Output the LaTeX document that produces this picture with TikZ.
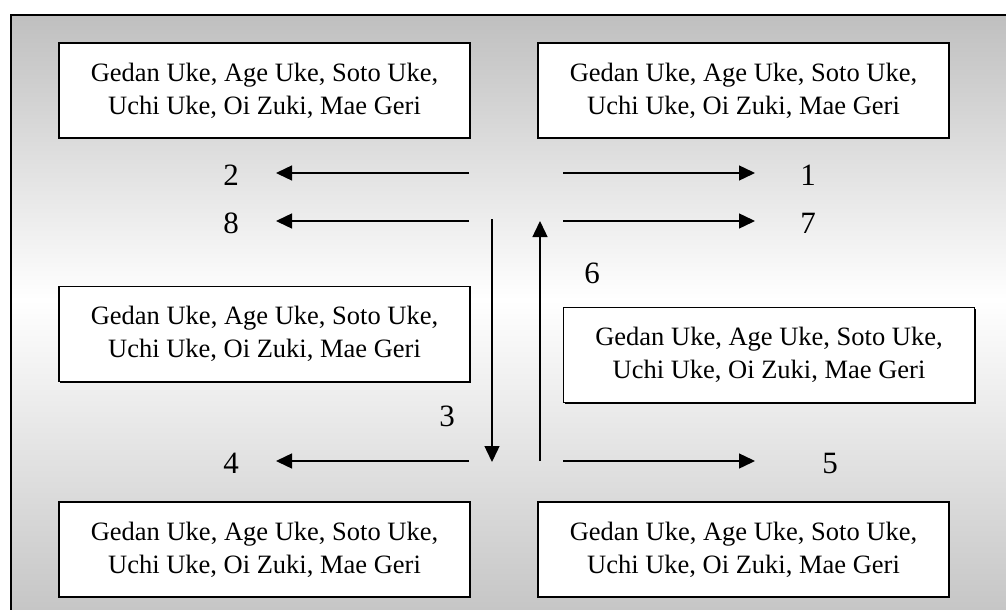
\documentclass[tikz,border=0pt]{standalone}
\usepackage{fontspec}
\setmainfont{Liberation Serif}
\usetikzlibrary{arrows.meta,shadows}
\begin{document}
\begin{tikzpicture}[x=1pt,y=-1pt,
  kbox/.style={draw, line width=1.5pt, fill=white, minimum width=411pt, minimum height=95pt, inner sep=0pt, align=center, font=\fontsize{26.5}{33}\selectfont, drop shadow={shadow xshift=1.2pt, shadow yshift=-1.2pt, fill=black, opacity=1}},
  num/.style={font=\fontsize{31}{36}\selectfont, inner sep=0pt},
  arr/.style={line width=1.4pt, -{Triangle[length=16pt,width=15pt]}}]
\useasboundingbox (0,0) rectangle (1006,610);
\shade[top color=gray!50, bottom color=white] (11,15) rectangle (1020,300);
\shade[top color=white, bottom color=gray!47] (11,300) rectangle (1020,625);
\draw[line width=1.5pt] (1020,15) -- (11,15) -- (11,625);
\node[kbox] (b1) at (264.5,90.5) {Gedan Uke, Age Uke, Soto Uke,\\Uchi Uke, Oi Zuki, Mae Geri};
\node[kbox] (b2) at (743.5,90.5) {Gedan Uke, Age Uke, Soto Uke,\\Uchi Uke, Oi Zuki, Mae Geri};
\node[kbox] (b3) at (264.5,334) {Gedan Uke, Age Uke, Soto Uke,\\Uchi Uke, Oi Zuki, Mae Geri};
\node[kbox] (b4) at (769,355) {Gedan Uke, Age Uke, Soto Uke,\\Uchi Uke, Oi Zuki, Mae Geri};
\node[kbox] (b5) at (264.5,549.5) {Gedan Uke, Age Uke, Soto Uke,\\Uchi Uke, Oi Zuki, Mae Geri};
\node[kbox] (b6) at (743.5,549.5) {Gedan Uke, Age Uke, Soto Uke,\\Uchi Uke, Oi Zuki, Mae Geri};
\node[num] (n2) at (231,175.5) {2};
\node[num] (n8) at (231,223) {8};
\node[num] (n4) at (231,463) {4};
\node[num] (n1) at (808,175.5) {1};
\node[num] (n7) at (808,223) {7};
\node[num] (n5) at (830,463) {5};
\node[num] (n3) at (447,416) {3};
\node[num] (n6) at (592,273) {6};
\coordinate (l1s) at (469,173); \coordinate (l1e) at (276,173);
\coordinate (r1s) at (563,173); \coordinate (r1e) at (755,173);
\coordinate (l2s) at (469,221); \coordinate (l2e) at (276,221);
\coordinate (r2s) at (563,221); \coordinate (r2e) at (755,221);
\coordinate (l3s) at (469,461); \coordinate (l3e) at (276,461);
\coordinate (r3s) at (563,461); \coordinate (r3e) at (755,461);
\coordinate (ds) at (492,219); \coordinate (de) at (492,462);
\coordinate (us) at (540,461); \coordinate (ue) at (540,221);
\draw[arr] (l1s) -- (l1e);
\draw[arr] (r1s) -- (r1e);
\draw[arr] (l2s) -- (l2e);
\draw[arr] (r2s) -- (r2e);
\draw[arr] (l3s) -- (l3e);
\draw[arr] (r3s) -- (r3e);
\draw[arr] (ds) -- (de);
\draw[arr] (us) -- (ue);
\end{tikzpicture}
\end{document}
